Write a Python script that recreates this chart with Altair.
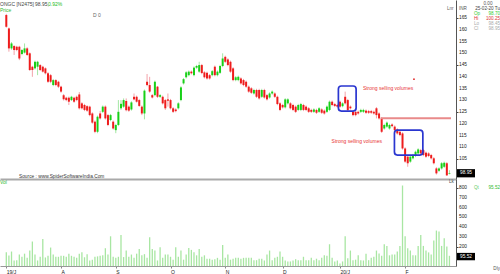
import altair as alt
import pandas as pd

FONT = "Liberation Sans"

opens = [166.3,160.6,152.1,153.1,152.8,152.8,149.7,150.3,152.1,150.0,
144.3,143.6,144.3,145.0,144.3,143.6,141.5,140.7,136.5,138.6,
137.9,135.8,132.2,131.1,131.1,130.1,131.1,131.5,132.5,128.7,
128.0,127.5,127.3,124.4,120.9,116.6,124.4,125.1,127.3,123.7,
121.6,120.9,117.3,119.5,126.6,127.3,129.7,127.3,126.1,131.5,
131.5,130.1,127.3,124.4,137.9,136.5,132.2,132.2,135.8,131.5,
131.5,130.1,130.4,130.1,126.6,126.1,126.6,130.1,137.2,139.8,
140.7,142.2,140.7,143.9,142.2,145.0,141.9,141.7,140.7,140.7,
144.3,140.7,141.7,144.6,148.5,147.4,146.4,143.6,138.6,138.6,
139.3,138.6,137.9,135.8,135.1,132.9,134.4,134.4,131.5,134.4,
132.2,131.2,132.9,132.9,131.5,128.7,128.0,127.0,128.7,128.7,
128.0,127.3,125.9,125.9,128.0,127.3,126.6,125.9,125.1,125.9,
125.1,126.1,125.6,125.1,125.9,129.4,128.4,128.0,129.4,127.5,
131.5,130.1,127.3,125.1,125.1,125.1,125.1,125.1,125.6,125.4,
125.4,125.1,126.6,124.4,122.3,118.0,118.8,118.0,119.7,118.8,
117.6,116.6,115.9,109.5,106.0,103.9,105.3,106.3,107.4,108.8,
108.8,107.7,107.4,106.7,105.3,101.0,100.0,101.0,101.7,103.2,
98.70]

highs = [166.8,161.0,154.8,153.5,153.2,153.2,151.8,154.2,152.6,150.4,
144.7,146.9,146.8,145.4,144.7,144.0,142.0,141.2,139.1,139.0,
138.3,136.2,132.7,131.5,131.6,131.9,131.5,132.0,133.5,129.2,
128.5,127.9,127.7,124.9,121.4,123.5,125.5,127.8,127.8,124.2,
124.2,121.4,120.0,130.1,130.1,130.8,130.8,127.8,129.6,132.9,
132.0,130.6,127.8,134.6,141.2,140.0,132.7,138.4,136.1,132.7,
132.0,130.6,132.9,130.6,127.1,126.6,129.2,136.0,139.5,142.4,
142.7,142.7,144.4,145.1,146.4,145.5,142.4,142.2,141.2,142.9,
144.8,142.7,145.1,150.0,149.0,147.9,146.9,144.1,140.3,140.5,
139.8,139.1,138.4,136.3,135.6,134.9,134.9,134.9,134.9,134.9,
132.7,133.4,134.2,133.4,132.0,129.2,128.5,130.9,130.9,129.2,
128.5,127.8,128.5,128.9,128.5,127.8,127.1,126.4,126.6,126.4,
127.1,126.6,126.1,127.8,129.9,129.9,128.9,128.5,129.9,129.2,
133.7,130.6,127.8,125.6,125.6,125.6,126.4,126.4,126.1,125.9,
125.9,125.6,127.1,124.9,122.8,120.0,121.0,120.0,120.2,119.3,
118.1,117.1,116.4,110.0,106.5,106.5,107.2,108.6,109.6,109.3,
109.3,108.2,107.9,107.2,105.8,101.5,101.5,103.7,103.9,103.7,
100.25]

lows = [160.9,150.7,151.5,149.3,150.9,147.1,149.2,149.9,148.9,142.5,
140.0,143.1,140.7,142.5,141.8,141.0,137.4,137.3,136.0,136.0,
135.2,133.2,129.9,129.6,128.0,129.7,128.9,129.6,126.1,126.1,
125.4,125.1,123.2,120.0,116.0,116.0,121.8,124.6,121.8,119.0,
121.1,117.5,116.0,119.0,125.9,126.8,125.3,125.1,125.6,130.0,
129.0,127.2,123.7,121.9,136.0,133.2,130.8,131.7,131.0,131.0,
128.2,125.9,127.3,126.1,124.6,124.9,126.1,129.6,136.7,139.3,
140.2,141.0,140.2,143.4,141.7,141.1,139.3,138.8,138.8,140.2,
140.2,140.2,141.2,144.1,145.9,144.5,141.7,138.1,138.1,138.1,
136.7,136.0,135.3,133.2,132.7,132.4,131.0,130.3,131.0,130.7,
129.9,130.7,132.4,131.0,127.9,125.4,126.5,126.5,128.2,126.1,
125.4,124.6,125.4,125.4,125.4,125.4,124.6,124.6,124.6,124.2,
124.6,124.2,123.9,124.6,125.4,127.5,127.1,126.8,126.8,127.0,
128.2,125.3,126.1,123.2,123.2,123.9,124.6,124.6,124.2,124.2,
124.2,123.9,122.3,121.8,116.1,117.5,118.3,117.5,118.5,116.8,
115.4,114.7,109.0,103.4,101.7,103.4,104.8,105.8,106.9,106.9,
106.2,105.5,105.8,104.8,102.7,98.4,99.5,100.5,101.2,97.8,
98.45]

closes = [161.3,152.1,154.2,151.4,151.4,147.8,151.4,152.1,149.3,142.9,
142.9,146.4,146.4,142.9,142.2,141.5,137.9,137.9,138.6,136.5,
135.8,133.7,130.4,130.1,129.4,131.5,129.4,130.1,126.6,126.6,
125.9,125.6,123.7,120.5,116.6,123.0,122.3,127.3,122.3,119.5,
123.7,118.0,119.5,125.1,128.5,130.1,125.8,125.6,129.1,130.4,
129.4,127.6,124.4,134.1,136.5,133.7,131.2,137.9,131.5,132.2,
128.7,126.6,129.8,126.6,125.1,125.4,128.7,135.5,139.0,141.9,
142.2,141.5,143.9,144.6,145.0,141.6,139.8,139.3,139.3,142.4,
140.7,142.2,144.6,147.8,146.4,145.0,142.2,138.6,139.8,140.0,
137.2,136.5,135.8,133.7,133.2,134.4,131.5,130.8,134.4,131.2,
130.4,132.9,133.7,131.5,128.4,125.9,127.0,130.4,130.4,126.6,
125.9,125.1,128.0,128.4,125.9,125.9,125.1,125.1,126.1,124.7,
126.6,124.7,124.4,127.3,129.4,128.0,127.6,127.3,127.3,128.7,
128.7,125.8,126.6,123.7,123.7,124.4,125.9,125.9,124.7,124.7,
124.7,124.4,123.7,122.3,116.6,119.5,120.5,119.5,119.0,117.3,
115.9,115.2,109.5,103.9,103.2,106.0,106.7,108.1,109.1,107.4,
106.7,106.0,106.3,105.3,103.2,98.9,101.0,103.2,103.4,98.05,
98.95]

volumes = [141,108,149,57,60,118,95,127,84,159,252,118,57,95,278,88,
105,190,118,95,95,105,105,95,127,105,95,84,127,141,90,
122,57,65,95,99,105,110,183,118,306,95,84,95,320,92,
159,95,118,84,127,176,110,122,84,296,176,159,57,193,86,
118,118,95,65,193,95,159,65,118,186,166,141,110,176,95,
110,75,75,65,70,84,65,217,84,118,65,75,84,84,75,84,84,
84,84,60,60,75,75,57,118,159,60,84,95,149,95,57,47,47,57,70,
60,60,95,60,60,84,60,75,60,84,110,105,224,84,47,57,25,47,306,80,
159,60,65,110,60,57,127,60,84,95,159,130,105,224,207,110,118,118,149,207,
829,
306,183,159,110,110,207,320,207,159,140,118,262,365,355,207,285,200,105]

month_ticks = [0, 21, 42, 63, 84, 106, 128, 153]
month_labels = ["19/J", "A", "S", "O", "N", "D", "20/J", "F"]
price_ticks = list(range(105, 170, 5))
vol_ticks = list(range(200, 900, 100))

box_start = [127.4, 148.9]
box_end = [134.2, 159.8]
box_low = [125.4, 106.7]
box_high = [136.1, 117.3]
note_texts = ["Strong selling volumes", "Strong selling volumes"]
note_i = [136.8, 124.8]
note_price = [135.2, 112.7]
support_price = [122.4]
support_start = [143.6]
support_end = [170.6]
dot_i = [156.4]
dot_price = [139.0]
last_close = [98.95]
last_volume = [97.0]

RED = "#ee1c1c"
GREEN = "#18d018"
WRED = "#f3a3aa"
WGREEN = "#a3e6a3"

N = len(opens)
df = pd.DataFrame({"i": list(range(N)), "o": opens, "h": highs, "l": lows,
                   "c": closes, "v": volumes})

x_scale = alt.Scale(domain=[-0.5, 170.6], nice=False, zero=False)
y_price = alt.Scale(domain=[96.5, 172.7], nice=False, zero=False)
y_vol = alt.Scale(domain=[0, 896], nice=False, zero=False)

yaxis_common = dict(orient="right", title=None, grid=False, labels=False,
                    tickSize=2, tickColor="#444444", domainColor="#555555")

up = alt.datum.c >= alt.datum.o
base = alt.Chart(df)

wick = base.mark_rule(strokeWidth=1).encode(
    x=alt.X("i:Q", scale=x_scale,
            axis=alt.Axis(labels=False, ticks=False, grid=False, title=None,
                          domainColor="#a9a9a9", domainWidth=2)),
    y=alt.Y("l:Q", scale=y_price, axis=alt.Axis(values=price_ticks, **yaxis_common)),
    y2="h:Q",
    color=alt.condition(up, alt.value(WGREEN), alt.value(WRED)),
)
body = base.mark_bar(size=2).encode(
    x=alt.X("i:Q", scale=x_scale),
    y=alt.Y("o:Q", scale=y_price),
    y2="c:Q",
    color=alt.condition(up, alt.value(GREEN), alt.value(RED)),
)

price_labels = alt.Chart(pd.DataFrame({"p": price_ticks})).mark_text(
    align="left", baseline="middle", fontSize=4.8, font=FONT, color="#222222"
).encode(x=alt.value(459), y=alt.Y("p:Q", scale=y_price), text=alt.Text("p:Q", format="d"))

boxes = alt.Chart(pd.DataFrame({"x0": box_start, "x1": box_end, "y0": box_low, "y1": box_high})).mark_rect(
    fillOpacity=0, stroke="#2a36d0", strokeWidth=1.7, cornerRadius=3
).encode(x=alt.X("x0:Q", scale=x_scale), x2="x1:Q", y=alt.Y("y0:Q", scale=y_price), y2="y1:Q")

support = alt.Chart(pd.DataFrame({"p": support_price, "s": support_start, "e": support_end})).mark_rule(
    color="#e98a8a", strokeWidth=2
).encode(x=alt.X("s:Q", scale=x_scale), x2="e:Q", y=alt.Y("p:Q", scale=y_price))

notes = alt.Chart(pd.DataFrame({"t": note_texts, "i": note_i, "p": note_price})).mark_text(
    align="left", baseline="middle", fontSize=5, font=FONT, color="#e83535"
).encode(x=alt.X("i:Q", scale=x_scale), y=alt.Y("p:Q", scale=y_price), text="t:N")

dot = alt.Chart(pd.DataFrame({"i": dot_i, "p": dot_price})).mark_circle(size=3, color="#e02020", opacity=1).encode(
    x=alt.X("i:Q", scale=x_scale), y=alt.Y("p:Q", scale=y_price))

lastbox = alt.Chart(pd.DataFrame({"p": last_close})).transform_calculate(
    top="datum.p + 1.75", bot="datum.p - 1.75"
).mark_rect(color="black").encode(
    x=alt.value(457), x2=alt.value(475), y=alt.Y("top:Q", scale=y_price), y2="bot:Q")
lasttext = alt.Chart(pd.DataFrame({"p": last_close})).mark_text(
    align="center", baseline="middle", fontSize=4.8, font=FONT, color="white"
).encode(x=alt.value(466), y=alt.Y("p:Q", scale=y_price), text=alt.Text("p:Q", format=".2f"))


def txt(s, x, y, color, align="left", size=5):
    return alt.Chart(pd.DataFrame({"t": [s]})).mark_text(
        align=align, baseline="middle", fontSize=size, font=FONT, color=color
    ).encode(x=alt.value(x), y=alt.value(y), text="t:N")


price_texts = [
    txt("ONGC [N2475]", 0, 3.5, "#444444"),
    txt("98.95,", 35, 3.5, "#444444"),
    txt("0.92%", 48, 3.5, "#22bb22"),
    txt("Price", 0, 9.5, "#33bb33"),
    txt("D 0", 93, 15, "#666666"),
    txt("Lnr", 447, 9, "#666666", size=4.6),
    txt("INR", 459, 9, "#555555", size=4.6),
    txt("0.00", 488, 4, "#555555", align="center", size=4.6),
    txt("25-02-20 Tu", 500, 9, "#444444", align="right", size=4.6),
    txt("Op", 474, 14, "#33cc33", size=4.6),
    txt("98.70", 500, 14, "#33cc33", align="right", size=4.6),
    txt("Hi", 474, 19, "#dd3333", size=4.6),
    txt("100.25", 500, 19, "#dd3333", align="right", size=4.6),
    txt("Lo", 474, 24, "#aaaaaa", size=4.6),
    txt("98.45", 500, 24, "#aaaaaa", align="right", size=4.6),
    txt("Cl", 474, 29, "#aaaaaa", size=4.6),
    txt("98.95", 500, 29, "#aaaaaa", align="right", size=4.6),
    txt("Source : www.SpiderSoftwareIndia.Com", 19, 176.5, "#333333", size=4.8),
]

price = alt.layer(wick, body, price_labels, boxes, support, notes, dot, lastbox, lasttext,
                  *price_texts).properties(width=456, height=179)

label_expr = "''"
for t, l in reversed(list(zip(month_ticks, month_labels))):
    label_expr = f"datum.value == {t} ? '{l}' : ({label_expr})"

vbars = base.mark_bar(size=1.3, color="#a8e6a2").encode(
    x=alt.X("i:Q", scale=x_scale,
            axis=alt.Axis(values=month_ticks, labelExpr=label_expr, labelAlign="left",
                          labelFontSize=5, labelColor="#222222", labelFont=FONT,
                          tickSize=2, tickColor="#888888", domainColor="#999999",
                          grid=False, title=None, labelPadding=1, labelFlush=False,
                          labelOverlap=False)),
    y=alt.Y("v:Q", scale=y_vol, axis=alt.Axis(values=vol_ticks, **yaxis_common)),
)
vol_labels = alt.Chart(pd.DataFrame({"v": vol_ticks})).mark_text(
    align="left", baseline="middle", fontSize=4.8, font=FONT, color="#222222"
).encode(x=alt.value(459), y=alt.Y("v:Q", scale=y_vol), text=alt.Text("v:Q", format="d"))
volbox = alt.Chart(pd.DataFrame({"v": last_volume})).transform_calculate(
    top="datum.v + 38", bot="datum.v - 38"
).mark_rect(color="black").encode(
    x=alt.value(457), x2=alt.value(475), y=alt.Y("top:Q", scale=y_vol), y2="bot:Q")
voltext = alt.Chart(pd.DataFrame({"t": ["95.52"], "v": last_volume})).mark_text(
    align="center", baseline="middle", fontSize=4.8, font=FONT, color="white"
).encode(x=alt.value(466), y=alt.Y("v:Q", scale=y_vol), text="t:N")

vol_texts = [
    txt("Vol", 0, 3, "#33bb33"),
    txt("Lk", 449, 3, "#555555", size=4.6),
    txt("Qt", 474, 9, "#66cc66", size=4.6),
    txt("95.52", 500, 9, "#33bb33", align="right", size=4.6),
    txt("Dly", 500, 90, "#555555", align="right", size=4.6),
]

vol = alt.layer(vbars, vol_labels, volbox, voltext, *vol_texts).properties(width=456, height=87)

chart = alt.vconcat(price, vol, spacing=0).properties(padding=0, background="white").configure_view(
    stroke=None).configure_concat(spacing=0)

chart.save("out.html", embed_options={"renderer": "svg", "actions": False})
